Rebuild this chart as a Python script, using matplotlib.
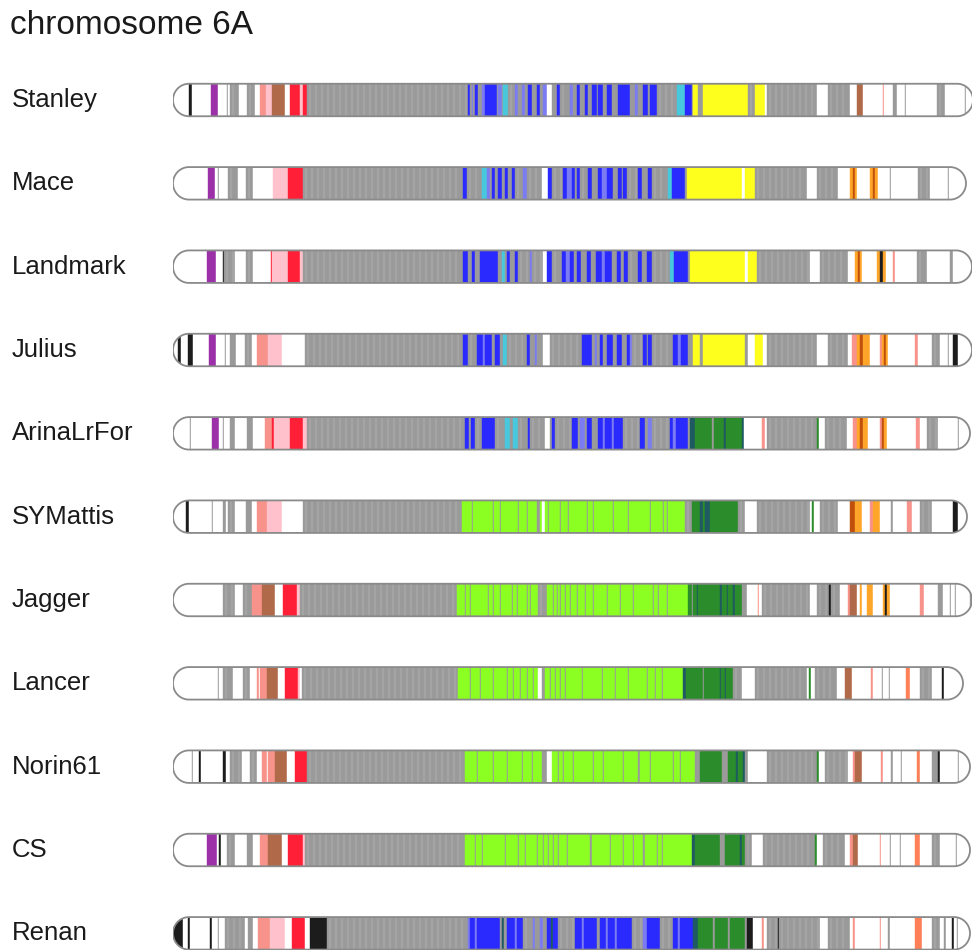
import matplotlib
matplotlib.use("Agg")
import matplotlib.pyplot as plt
import matplotlib.transforms as mtransforms
import numpy as np
from matplotlib.path import Path
from matplotlib.patches import PathPatch

plt.rcParams["font.family"] = ["Liberation Sans", "DejaVu Sans"]

# haplotype colour codes
PALETTE = {
    "W": "#ffffff", "G": "#9a9a9a", "K": "#1c1c1c", "P": "#9b30a8",
    "PK": "#ffc2cc", "SA": "#f7938a", "BR": "#b06a4a", "R": "#ff2038",
    "B": "#2a2aff", "PB": "#7c7cf2", "CY": "#48c8dc", "Y": "#ffff1e",
    "LG": "#8cff22", "DG": "#2a8c2a", "TL": "#1f5a62", "O": "#ffa62a",
    "DO": "#c0500c", "CO": "#ff7f56",
}

TITLE = "chromosome 6A"
varieties = ["Stanley", "Mace", "Landmark", "Julius", "ArinaLrFor", "SYMattis",
             "Jagger", "Lancer", "Norin61", "CS", "Renan"]

# each block: (end position, haplotype code); a block starts where the previous one ends
stanley = [(16, "W"), (19, "K"), (38, "W"), (45, "P"), (54, "W"), (55, "G"), (57, "W"), (66, "G"),
           (74, "W"), (82, "G"), (87, "W"), (93, "SA"), (99, "PK"), (112, "BR"), (117, "W"), (127, "R"),
           (130, "PK"), (134, "R"), (295, "G"), (297, "B"), (299, "G"), (300, "PB"), (302, "G"), (305, "B"),
           (309, "G"), (312, "PB"), (324, "B"), (325, "G"), (329, "PB"), (330, "G"), (335, "CY"), (342, "G"),
           (345, "PB"), (349, "G"), (352, "PB"), (355, "G"), (359, "B"), (364, "G"), (367, "B"), (370, "G"),
           (374, "PB"), (379, "W"), (384, "G"), (387, "B"), (397, "G"), (400, "PB"), (404, "G"), (407, "B"),
           (412, "G"), (415, "B"), (419, "G"), (424, "B"), (425, "G"), (430, "B"), (434, "G"), (439, "B"),
           (445, "G"), (457, "B"), (462, "G"), (465, "PB"), (470, "G"), (475, "B"), (477, "G"), (484, "B"),
           (504, "G"), (512, "CY"), (519, "B"), (520, "G"), (525, "Y"), (530, "G"), (575, "Y"), (582, "G"),
           (592, "Y"), (594, "W"), (644, "G"), (655, "W"), (677, "G"), (684, "W"), (690, "BR"), (710, "W"),
           (711, "SA"), (720, "W"), (724, "G"), (732, "W"), (733, "G"), (764, "W"), (772, "G"), (792, "W"),
           (793, "G"), (800, "W")]

mace = [(35, "W"), (42, "P"), (45, "W"), (46, "G"), (55, "W"), (65, "G"), (73, "W"), (80, "G"),
        (100, "W"), (115, "PK"), (130, "R"), (290, "G"), (294, "B"), (309, "G"), (314, "CY"), (317, "PB"),
        (319, "G"), (322, "B"), (325, "G"), (329, "B"), (332, "G"), (335, "B"), (339, "G"), (342, "B"),
        (350, "G"), (354, "PB"), (369, "G"), (375, "W"), (379, "B"), (390, "G"), (394, "B"), (399, "PB"),
        (402, "B"), (404, "G"), (407, "B"), (415, "G"), (419, "B"), (425, "G"), (429, "B"), (434, "PB"),
        (440, "B"), (445, "G"), (449, "B"), (450, "G"), (454, "B"), (465, "G"), (469, "B"), (475, "G"),
        (479, "B"), (495, "G"), (499, "CY"), (512, "B"), (514, "G"), (569, "Y"), (572, "W"), (582, "Y"),
        (634, "G"), (644, "W"), (665, "G"), (677, "W"), (680, "O"), (682, "DO"), (684, "O"), (697, "W"),
        (700, "O"), (702, "DO"), (705, "O"), (717, "W"), (718, "G"), (745, "W"), (757, "G"), (775, "W"),
        (776, "G"), (793, "W")]

landmark = [(34, "W"), (43, "P"), (50, "W"), (51, "K"), (62, "G"), (73, "W"), (80, "G"), (98, "W"),
            (99, "R"), (115, "PK"), (127, "R"), (130, "PK"), (290, "G"), (295, "B"), (299, "G"), (302, "B"),
            (307, "G"), (325, "B"), (329, "G"), (332, "CY"), (334, "G"), (337, "B"), (342, "G"), (345, "B"),
            (357, "G"), (359, "PB"), (370, "G"), (374, "W"), (379, "B"), (389, "G"), (393, "B"), (397, "PB"),
            (401, "B"), (404, "G"), (408, "B"), (414, "G"), (418, "B"), (423, "G"), (429, "B"), (432, "PB"),
            (439, "B"), (444, "G"), (448, "B"), (451, "G"), (455, "B"), (465, "G"), (469, "B"), (474, "G"),
            (479, "B"), (497, "G"), (501, "CY"), (515, "B"), (517, "G"), (572, "Y"), (575, "W"), (584, "Y"),
            (637, "G"), (647, "W"), (675, "G"), (682, "W"), (685, "O"), (687, "DO"), (689, "O"), (704, "W"),
            (707, "O"), (710, "K"), (713, "O"), (720, "W"), (722, "SA"), (744, "W"), (754, "G"), (777, "W"),
            (780, "G"), (799, "W")]

julius = [(5, "W"), (8, "K"), (15, "W"), (20, "K"), (36, "W"), (43, "P"), (52, "W"), (53, "G"),
          (57, "W"), (63, "G"), (72, "W"), (79, "G"), (84, "W"), (95, "SA"), (109, "PK"), (132, "W"),
          (290, "G"), (295, "B"), (304, "G"), (310, "B"), (312, "PB"), (319, "B"), (322, "G"), (327, "B"),
          (330, "G"), (334, "CY"), (354, "G"), (357, "B"), (362, "G"), (364, "PB"), (370, "G"), (377, "W"),
          (409, "G"), (419, "B"), (422, "G"), (424, "PB"), (427, "G"), (430, "B"), (434, "G"), (440, "B"),
          (444, "G"), (449, "B"), (454, "G"), (457, "B"), (459, "PB"), (470, "G"), (474, "B"), (475, "G"),
          (479, "B"), (500, "G"), (505, "B"), (508, "PB"), (515, "B"), (520, "G"), (527, "Y"), (530, "G"),
          (572, "Y"), (575, "G"), (582, "W"), (590, "Y"), (594, "W"), (644, "G"), (655, "W"), (675, "G"),
          (679, "W"), (684, "SA"), (687, "O"), (690, "DO"), (697, "O"), (707, "W"), (709, "SA"), (711, "O"),
          (713, "DO"), (715, "O"), (742, "W"), (745, "SA"), (759, "W"), (767, "G"), (775, "W"), (776, "G"),
          (780, "W"), (785, "K"), (799, "W")]

arina = [(17, "W"), (18, "G"), (39, "W"), (46, "P"), (50, "W"), (51, "G"), (57, "W"), (62, "G"),
         (74, "W"), (80, "G"), (92, "W"), (99, "SA"), (101, "R"), (117, "PK"), (130, "R"), (134, "PK"),
         (292, "G"), (296, "B"), (298, "G"), (302, "B"), (309, "G"), (322, "B"), (332, "G"), (337, "CY"),
         (340, "G"), (345, "CY"), (355, "G"), (357, "B"), (372, "G"), (377, "W"), (379, "G"), (382, "B"),
         (399, "G"), (405, "B"), (407, "G"), (412, "PB"), (414, "G"), (419, "B"), (425, "G"), (430, "B"),
         (432, "PB"), (439, "B"), (441, "PB"), (450, "B"), (467, "G"), (472, "B"), (475, "G"), (479, "PB"),
         (497, "G"), (500, "B"), (503, "PB"), (515, "B"), (517, "G"), (522, "TL"), (539, "DG"), (541, "G"),
         (551, "DG"), (553, "TL"), (569, "DG"), (571, "TL"), (589, "W"), (592, "SA"), (594, "W"), (644, "G"),
         (646, "DG"), (652, "W"), (674, "G"), (680, "W"), (684, "SA"), (687, "O"), (690, "DO"), (695, "O"),
         (707, "W"), (709, "SA"), (711, "DO"), (714, "O"), (743, "W"), (747, "SA"), (754, "W"), (765, "G"),
         (785, "W"), (786, "G"), (797, "W")]

symattis = [(13, "W"), (16, "K"), (39, "W"), (40, "G"), (50, "W"), (53, "G"), (55, "W"), (62, "G"),
            (73, "W"), (79, "G"), (84, "W"), (94, "SA"), (109, "PK"), (130, "W"), (289, "G"), (299, "LG"),
            (300, "G"), (320, "LG"), (321, "G"), (327, "LG"), (328, "G"), (345, "LG"), (346, "G"), (354, "LG"),
            (355, "G"), (364, "LG"), (367, "G"), (369, "LG"), (372, "W"), (375, "LG"), (376, "G"), (387, "LG"),
            (388, "G"), (395, "LG"), (396, "G"), (414, "LG"), (415, "G"), (420, "LG"), (421, "G"), (440, "LG"),
            (441, "G"), (455, "LG"), (456, "G"), (477, "LG"), (478, "G"), (490, "LG"), (491, "G"), (494, "LG"),
            (495, "G"), (512, "LG"), (519, "G"), (527, "DG"), (530, "TL"), (532, "DG"), (537, "TL"), (565, "DG"),
            (572, "G"), (584, "W"), (637, "G"), (639, "W"), (641, "DG"), (647, "W"), (665, "G"), (677, "W"),
            (682, "DO"), (689, "O"), (697, "W"), (700, "SA"), (707, "O"), (718, "W"), (720, "G"), (734, "W"),
            (739, "SA"), (747, "W"), (759, "G"), (780, "W"), (785, "K"), (794, "W")]

jagger = [(50, "W"), (62, "G"), (70, "W"), (79, "G"), (89, "SA"), (102, "BR"), (110, "W"), (124, "R"),
          (127, "PK"), (284, "G"), (292, "LG"), (293, "G"), (297, "LG"), (298, "G"), (315, "LG"), (316, "G"),
          (320, "LG"), (321, "G"), (327, "LG"), (328, "G"), (339, "LG"), (340, "G"), (344, "LG"), (345, "G"),
          (354, "LG"), (355, "G"), (357, "LG"), (358, "G"), (365, "LG"), (374, "G"), (380, "LG"), (381, "G"),
          (384, "LG"), (385, "G"), (387, "LG"), (388, "G"), (392, "LG"), (393, "G"), (397, "LG"), (398, "G"),
          (404, "LG"), (405, "G"), (412, "LG"), (413, "G"), (420, "LG"), (421, "G"), (434, "LG"), (435, "G"),
          (447, "LG"), (448, "G"), (460, "LG"), (461, "G"), (480, "LG"), (481, "G"), (485, "LG"), (486, "G"),
          (494, "LG"), (495, "G"), (515, "LG"), (519, "DG"), (520, "G"), (524, "DG"), (525, "TL"), (547, "DG"),
          (549, "TL"), (554, "DG"), (555, "TL"), (560, "DG"), (562, "TL"), (569, "DG"), (574, "G"), (585, "W"),
          (586, "SA"), (589, "W"), (637, "G"), (644, "W"), (656, "G"), (658, "K"), (667, "G"), (675, "W"),
          (677, "SA"), (684, "BR"), (687, "W"), (689, "O"), (694, "W"), (700, "O"), (710, "W"), (712, "O"),
          (714, "K"), (717, "O"), (747, "W"), (751, "SA"), (765, "W"), (770, "G"), (777, "W"), (778, "G"),
          (782, "W"), (783, "G"), (797, "W"), (799, "G")]

lancer = [(45, "W"), (46, "G"), (50, "W"), (60, "G"), (70, "W"), (77, "G"), (84, "W"), (86, "SA"),
          (87, "W"), (94, "SA"), (105, "BR"), (112, "W"), (125, "R"), (127, "PK"), (129, "W"), (285, "G"),
          (297, "LG"), (298, "G"), (307, "LG"), (308, "G"), (320, "LG"), (321, "G"), (334, "LG"), (335, "G"),
          (340, "LG"), (341, "G"), (347, "LG"), (348, "G"), (354, "LG"), (355, "G"), (360, "LG"), (361, "G"),
          (365, "LG"), (369, "W"), (372, "G"), (377, "LG"), (378, "G"), (382, "LG"), (383, "G"), (387, "LG"),
          (388, "G"), (392, "LG"), (393, "G"), (409, "LG"), (410, "G"), (429, "LG"), (430, "G"), (442, "LG"),
          (443, "G"), (455, "LG"), (456, "G"), (474, "LG"), (475, "G"), (482, "LG"), (483, "G"), (489, "LG"),
          (490, "G"), (510, "LG"), (513, "TL"), (530, "DG"), (531, "G"), (547, "DG"), (548, "TL"), (552, "DG"),
          (553, "TL"), (560, "DG"), (569, "G"), (582, "W"), (634, "G"), (636, "W"), (638, "DG"), (642, "W"),
          (664, "G"), (672, "W"), (679, "BR"), (698, "W"), (700, "SA"), (709, "W"), (710, "G"), (716, "W"),
          (717, "G"), (733, "W"), (737, "CO"), (747, "W"), (759, "G"), (769, "W"), (771, "K"), (790, "W")]

norin61 = [(19, "W"), (20, "G"), (26, "W"), (28, "K"), (50, "W"), (53, "K"), (57, "W"), (69, "G"),
           (77, "W"), (84, "G"), (89, "W"), (94, "SA"), (95, "W"), (102, "SA"), (114, "BR"), (122, "W"),
           (134, "R"), (292, "G"), (304, "LG"), (305, "G"), (320, "LG"), (321, "G"), (334, "LG"), (335, "G"),
           (349, "LG"), (350, "G"), (359, "LG"), (360, "G"), (369, "LG"), (374, "G"), (379, "W"), (385, "LG"),
           (386, "G"), (390, "LG"), (391, "G"), (400, "LG"), (401, "G"), (420, "LG"), (421, "G"), (430, "LG"),
           (431, "G"), (450, "LG"), (451, "G"), (465, "LG"), (467, "G"), (477, "LG"), (478, "G"), (500, "LG"),
           (501, "G"), (507, "LG"), (508, "G"), (522, "LG"), (527, "G"), (549, "DG"), (555, "G"), (563, "DG"),
           (565, "TL"), (570, "DG"), (572, "TL"), (575, "G"), (594, "W"), (644, "G"), (646, "DG"), (652, "W"),
           (675, "G"), (680, "W"), (682, "SA"), (689, "BR"), (708, "W"), (710, "SA"), (718, "W"), (720, "G"),
           (728, "W"), (729, "G"), (744, "W"), (747, "CO"), (759, "W"), (765, "G"), (767, "K"), (785, "W"),
           (786, "G"), (797, "W")]

cs = [(34, "W"), (44, "P"), (46, "W"), (48, "K"), (54, "W"), (62, "G"), (74, "W"), (80, "G"),
      (87, "W"), (95, "SA"), (109, "BR"), (115, "W"), (130, "R"), (132, "PK"), (292, "G"), (302, "LG"),
      (303, "G"), (309, "LG"), (310, "G"), (332, "LG"), (333, "G"), (345, "LG"), (346, "G"), (352, "LG"),
      (353, "G"), (364, "LG"), (365, "G"), (370, "LG"), (371, "G"), (375, "LG"), (376, "G"), (380, "LG"),
      (381, "G"), (385, "LG"), (386, "G"), (394, "LG"), (395, "G"), (417, "LG"), (419, "G"), (437, "LG"),
      (438, "G"), (450, "LG"), (451, "G"), (460, "LG"), (461, "G"), (470, "LG"), (472, "G"), (484, "LG"),
      (485, "G"), (489, "LG"), (490, "G"), (519, "LG"), (522, "TL"), (547, "DG"), (552, "G"), (567, "DG"),
      (569, "TL"), (572, "DG"), (579, "G"), (590, "W"), (642, "G"), (644, "DG"), (650, "W"), (672, "G"),
      (677, "W"), (680, "SA"), (685, "BR"), (707, "W"), (708, "SA"), (717, "W"), (718, "G"), (727, "W"),
      (728, "G"), (742, "W"), (747, "CO"), (759, "W"), (767, "G"), (783, "W"), (784, "G"), (797, "W")]

renan = [(10, "K"), (15, "W"), (17, "K"), (37, "W"), (39, "K"), (45, "W"), (46, "G"), (52, "W"),
         (72, "G"), (75, "W"), (80, "G"), (85, "W"), (97, "SA"), (112, "PK"), (119, "W"), (132, "R"),
         (137, "W"), (154, "K"), (295, "G"), (297, "PB"), (302, "B"), (304, "PB"), (327, "B"), (329, "G"),
         (331, "TL"), (334, "G"), (342, "B"), (344, "PB"), (350, "B"), (360, "G"), (362, "PB"), (367, "G"),
         (370, "PB"), (374, "G"), (378, "B"), (380, "TL"), (385, "B"), (402, "G"), (409, "B"), (411, "PB"),
         (424, "B"), (427, "G"), (433, "B"), (435, "PB"), (442, "B"), (444, "PB"), (459, "B"), (470, "G"),
         (474, "PB"), (487, "B"), (500, "G"), (505, "B"), (507, "PB"), (520, "B"), (525, "TL"), (540, "DG"),
         (542, "G"), (555, "DG"), (557, "G"), (572, "DG"), (574, "G"), (580, "K"), (589, "W"), (591, "SA"),
         (594, "W"), (605, "G"), (606, "K"), (647, "G"), (655, "W"), (677, "G"), (680, "W"), (682, "SA"),
         (707, "W"), (708, "SA"), (715, "W"), (717, "G"), (742, "W"), (749, "CO"), (759, "W"), (767, "G"),
         (771, "W"), (773, "G"), (779, "W"), (781, "K"), (784, "W"), (785, "G"), (797, "W")]

haplotypes = [stanley, mace, landmark, julius, arina, symattis, jagger, lancer, norin61, cs, renan]

FIG_W, FIG_H = 972, 950
HALF_H = 0.195   # half bar height, in row units
CAP_R = 16       # radius of the rounded chromosome ends, in position units
MARKER_STEP = 6  # spacing of the faint marker lines drawn over grey blocks


def blocks(runs):
    xranges, colors = [], []
    prev = 0
    for end, code in runs:
        xranges.append((prev, end - prev))
        colors.append(PALETTE[code])
        prev = end
    return xranges, colors, prev


def grey_marker_lines(runs):
    xs = []
    prev = 0
    for end, code in runs:
        if code == "G" and end - prev > MARKER_STEP:
            xs.extend(np.arange(prev + MARKER_STEP / 2, end - 1, MARKER_STEP))
        prev = end
    return xs


def chrom_path(length, yc):
    t_left = np.linspace(np.pi / 2, 3 * np.pi / 2, 40)
    t_right = np.linspace(-np.pi / 2, np.pi / 2, 40)
    left = np.column_stack([CAP_R + CAP_R * np.cos(t_left), yc + HALF_H * np.sin(t_left)])
    right = np.column_stack([length - CAP_R + CAP_R * np.cos(t_right), yc + HALF_H * np.sin(t_right)])
    verts = np.vstack([left, right, left[:1]])
    return Path(verts, closed=True)


fig = plt.figure(figsize=(FIG_W / 100, FIG_H / 100), dpi=100)
ax = fig.add_axes([173 / FIG_W, 0, 800 / FIG_W, 1])
ax.set_xlim(0, 800)
ax.set_ylim(10.2, -1.2)
ax.axis("off")

label_tf = mtransforms.blended_transform_factory(fig.transFigure, ax.transData)

for i, (name, runs) in enumerate(zip(varieties, haplotypes)):
    xranges, colors, length = blocks(runs)
    outline = PathPatch(chrom_path(length, i), facecolor="none", edgecolor="#8a8a8a",
                        linewidth=1.3, zorder=4)
    ax.add_patch(outline)
    bars = ax.broken_barh(xranges, (i - HALF_H, 2 * HALF_H), facecolors=colors,
                          edgecolors=colors, linewidth=0.3, zorder=2)
    bars.set_clip_path(outline)
    texture = ax.vlines(grey_marker_lines(runs), i - HALF_H, i + HALF_H,
                        colors="#a4a4a4", linewidth=1.6, zorder=3)
    texture.set_clip_path(outline)
    ax.text(12 / FIG_W, i, name, transform=label_tf, ha="left", va="center",
            fontsize=18.5, color="#1a1a1a")

fig.text(10 / FIG_W, 1 - 26 / FIG_H, TITLE, ha="left", va="center", fontsize=24, color="#1a1a1a")

fig.savefig("out.png", dpi=100)
